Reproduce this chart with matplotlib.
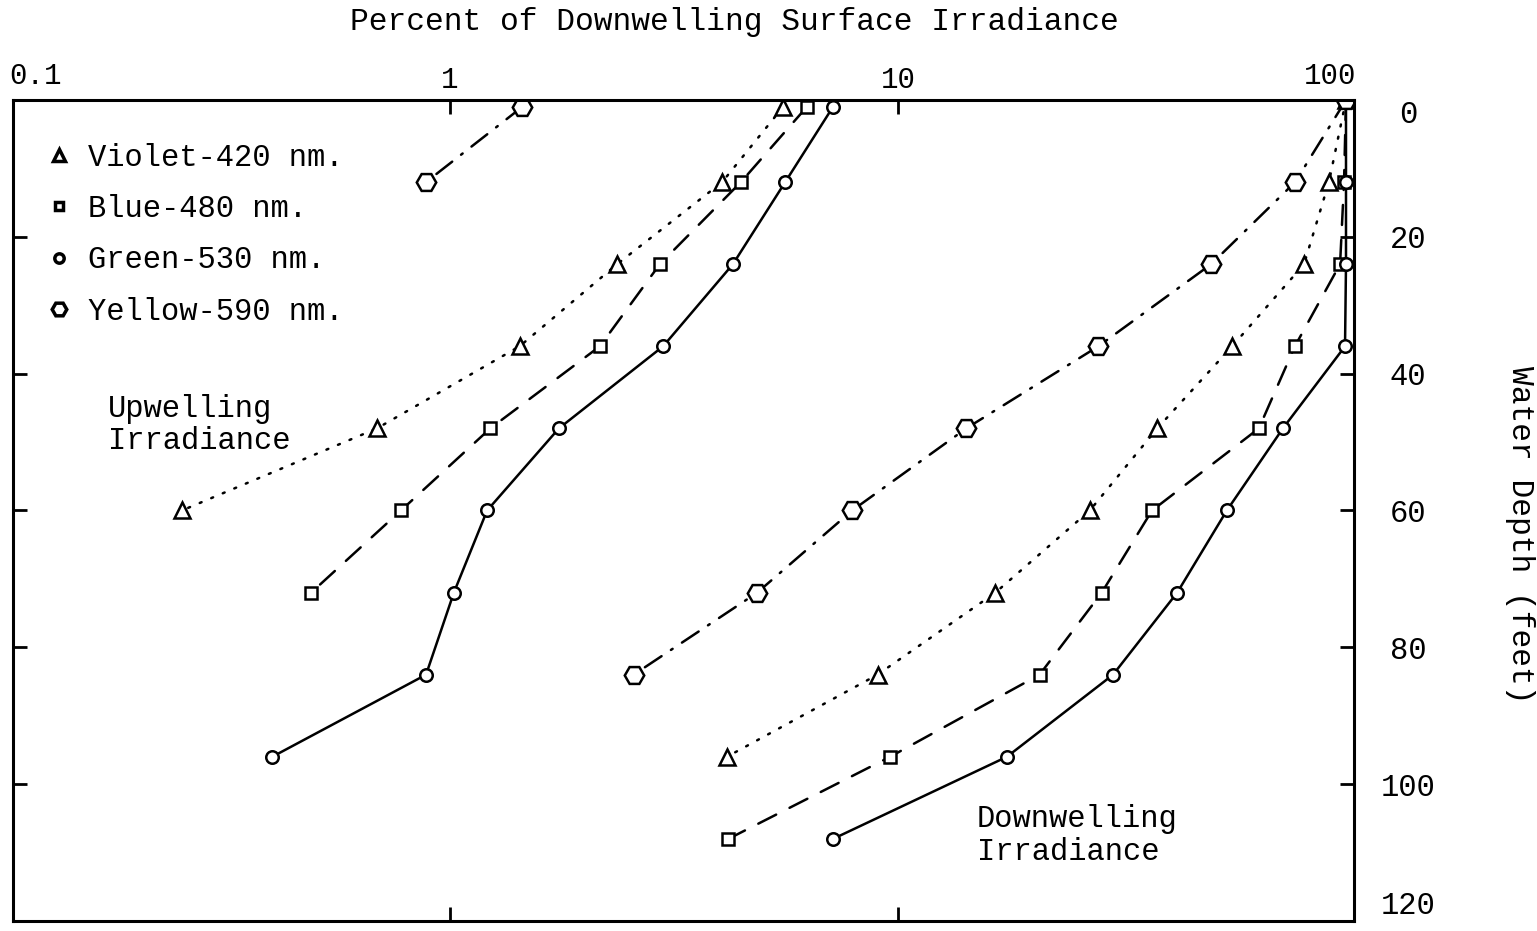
import matplotlib
matplotlib.use('Agg')
import matplotlib.pyplot as plt
from matplotlib.lines import Line2D

plt.rcParams['font.family'] = ['Liberation Mono', 'DejaVu Sans Mono']

# depths in feet
depth_up = [1, 12, 24, 36, 48, 60, 72, 84, 96]
depth_down = [0, 12, 24, 36, 48, 60, 72, 84, 96, 108]

# upwelling irradiance (percent of surface downwelling)
up_violet = [5.54, 4.05, 2.36, 1.43, 0.687, 0.252]
up_blue = [6.26, 4.46, 2.94, 2.16, 1.23, 0.777, 0.49]
up_green = [7.16, 5.6, 4.28, 2.99, 1.75, 1.21, 1.02, 0.884, 0.401]
up_yellow = [1.45, 0.884]

# downwelling irradiance
down_violet = [100, 91.6, 80.6, 55.7, 37.9, 26.8, 16.5, 9.0, 4.15]
down_blue = [100, 99.0, 97.0, 76.9, 63.9, 36.9, 28.5, 20.7, 9.6, 4.18]
down_green = [100, 100, 100, 99.5, 72.3, 54.2, 42.0, 30.2, 17.5, 7.16]
down_yellow = [100, 77.0, 50.0, 28.0, 14.2, 7.9, 4.85, 2.57]

labels = ['Violet-420 nm.', 'Blue-480 nm.', 'Green-530 nm.', 'Yellow-590 nm.']
depth_ticks = [0, 20, 40, 60, 80, 100, 120]

lw = 1.8
styles = {
    'violet': dict(marker='^', ms=11, ls=(0, (0.8, 4.2))),
    'blue': dict(marker='s', ms=8, ls=(0, (8, 6))),
    'green': dict(marker='o', ms=9, ls='-'),
    'yellow': dict(marker='H', ms=14, ls=(0, (8, 4.5, 0.8, 4.5))),
}

fig = plt.figure(figsize=(15.37, 9.31), dpi=100)
ax = fig.add_axes([13 / 1537, 1 - 921 / 931, (1354 - 13) / 1537, (921 - 100) / 931])

series = [
    (up_violet, depth_up, 'violet'), (up_blue, depth_up, 'blue'),
    (up_green, depth_up, 'green'), (up_yellow, depth_up, 'yellow'),
    (down_violet, depth_down, 'violet'), (down_blue, depth_down, 'blue'),
    (down_green, depth_down, 'green'), (down_yellow, depth_down, 'yellow'),
]
for vals, depths, key in series:
    st = styles[key]
    ax.plot(vals, depths[:len(vals)], color='black', lw=lw, linestyle=st['ls'],
            marker=st['marker'], ms=st['ms'], mfc='white', mec='black', mew=1.8,
            dash_capstyle='round')

ax.set_xscale('log')
ax.set_xlim(0.1058, 104.2)
ax.set_ylim(120, 0)

ax.xaxis.tick_top()
ax.set_xticks([1, 10])
ax.set_xticklabels(['1', '10'])
ax.minorticks_off()
ax.tick_params(axis='x', which='both', top=True, bottom=True, direction='in',
               length=10, width=2, labelsize=21, pad=4)
ax.text(0.1185, -1.5, '0.1', ha='center', va='bottom', fontsize=21)
ax.text(92.0, -1.5, '100', ha='center', va='bottom', fontsize=21)

ax.set_yticks(depth_ticks)
ax.tick_params(axis='y', left=True, right=True, labelleft=False, labelright=True,
               direction='in', length=10, width=2, labelsize=22, pad=39)
ylabels = ax.get_yticklabels()
for t in ylabels:
    t.set_ha('center')
ylabels[0].set_va('top')
ylabels[-1].set_va('bottom')

for sp in ax.spines.values():
    sp.set_linewidth(2.2)

ax.text(0.172, 47.5, 'Upwelling\nIrradiance', ha='left', va='center',
        fontsize=22, linespacing=1.12)
ax.text(15.0, 107.5, 'Downwelling\nIrradiance', ha='left', va='center',
        fontsize=22, linespacing=1.12)

handles = [Line2D([], [], ls='none', marker=styles[k]['marker'],
                  ms=styles[k]['ms'] * 0.75, mfc='white', mec='black', mew=2.5)
           for k in ['violet', 'blue', 'green', 'yellow']]
ax.legend(handles, labels, loc='upper left', bbox_to_anchor=(0.014, 0.963),
          frameon=False, fontsize=22, handlelength=1.0, handletextpad=0.45,
          labelspacing=0.7, borderaxespad=0)

fig.text(734 / 1537, 1 - 22 / 931, 'Percent of Downwelling Surface Irradiance',
         ha='center', va='center', fontsize=22.5)
fig.text(1520 / 1537, 1 - 535 / 931, 'Water Depth (feet)', ha='center',
         va='center', rotation=270, fontsize=22.5)

fig.savefig('out.png', dpi=100)
